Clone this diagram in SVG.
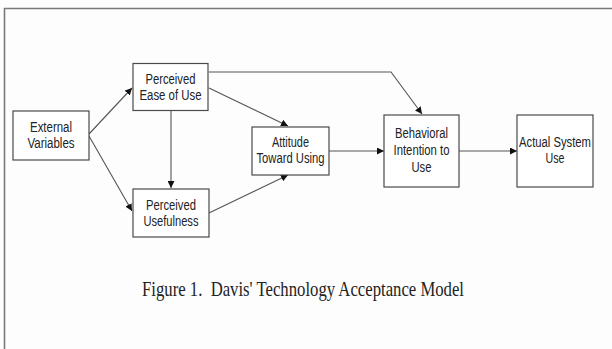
<svg xmlns="http://www.w3.org/2000/svg" width="612" height="349" viewBox="0 0 612 349">
<style>
.box{fill:#fff;stroke:#4a4a4a;stroke-width:1.2}
.t{font-family:"Liberation Sans",Arial,sans-serif;font-size:14px;fill:#222;text-anchor:middle}
.c{fill:none;stroke:#555;stroke-width:1.1}
.cap{font-family:"Liberation Serif","Times New Roman",serif;font-size:22px;fill:#222}
</style>
<defs>
<marker id="ah" viewBox="0 0 10 10" refX="10" refY="5" markerWidth="7" markerHeight="7" markerUnits="userSpaceOnUse" orient="auto">
<path d="M0,0 L10,5 L0,10 z" fill="#111"/>
</marker>
</defs>
<rect width="612" height="349" fill="#fdfdfd"/>
<path d="M4.5,360 V8.5 H620" fill="none" stroke="#7a7a7a" stroke-width="1.6"/>
<g id="connectors">
<path class="c" d="M89,134 L132,88" marker-end="url(#ah)"/>
<path class="c" d="M89,136 L132,211" marker-end="url(#ah)"/>
<path class="c" d="M171,111 V188" marker-end="url(#ah)"/>
<path class="c" d="M209,88 L288,126" marker-end="url(#ah)"/>
<path class="c" d="M209,213 L288,175" marker-end="url(#ah)"/>
<path class="c" d="M209,72 H391 L422,114" marker-end="url(#ah)"/>
<path class="c" d="M329,151 H384" marker-end="url(#ah)"/>
<path class="c" d="M459,151 H517" marker-end="url(#ah)"/>
</g>
<g id="external">
<rect class="box" x="13" y="111" width="76" height="49"/>
<text class="t" x="51" y="132" textLength="42" lengthAdjust="spacingAndGlyphs">External</text>
<text class="t" x="51" y="148" textLength="47" lengthAdjust="spacingAndGlyphs">Variables</text>
</g>
<g id="ease">
<rect class="box" x="133" y="63.5" width="75" height="47"/>
<text class="t" x="170.5" y="83.5" textLength="50" lengthAdjust="spacingAndGlyphs">Perceived</text>
<text class="t" x="170.5" y="100" textLength="62" lengthAdjust="spacingAndGlyphs">Ease of Use</text>
</g>
<g id="usefulness">
<rect class="box" x="133" y="189" width="76" height="48"/>
<text class="t" x="171" y="210" textLength="50" lengthAdjust="spacingAndGlyphs">Perceived</text>
<text class="t" x="171" y="226" textLength="55" lengthAdjust="spacingAndGlyphs">Usefulness</text>
</g>
<g id="attitude">
<rect class="box" x="252" y="127" width="77" height="48"/>
<text class="t" x="290.5" y="147" textLength="37" lengthAdjust="spacingAndGlyphs">Attitude</text>
<text class="t" x="290.5" y="163" textLength="68" lengthAdjust="spacingAndGlyphs">Toward Using</text>
</g>
<g id="intention">
<rect class="box" x="384" y="115" width="75" height="72"/>
<text class="t" x="421.5" y="138" textLength="53" lengthAdjust="spacingAndGlyphs">Behavioral</text>
<text class="t" x="421.5" y="155" textLength="56" lengthAdjust="spacingAndGlyphs">Intention to</text>
<text class="t" x="421.5" y="171.5" textLength="20" lengthAdjust="spacingAndGlyphs">Use</text>
</g>
<g id="actual">
<rect class="box" x="517" y="115" width="76" height="72"/>
<text class="t" x="555" y="147" textLength="72" lengthAdjust="spacingAndGlyphs">Actual System</text>
<text class="t" x="555" y="163" textLength="19" lengthAdjust="spacingAndGlyphs">Use</text>
</g>
<text class="cap" x="142" y="296" textLength="322" lengthAdjust="spacingAndGlyphs" xml:space="preserve">Figure 1.  Davis' Technology Acceptance Model</text>
</svg>
